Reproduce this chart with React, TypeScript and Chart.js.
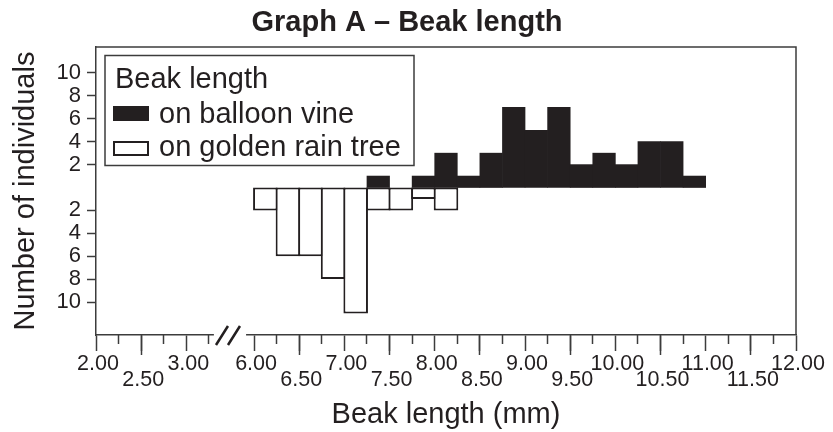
import React, { useEffect, useRef } from 'react';
import { Chart, registerables } from 'chart.js';

Chart.register(...registerables);

// ---------- data ----------
const TITLE = 'Graph A – Beak length';
const X_TITLE = 'Beak length (mm)';
const Y_TITLE = 'Number of individuals';
const LEGEND_TITLE = 'Beak length';
const SERIES_LABELS = ['on balloon vine', 'on golden rain tree'];

// start of each 0.25 mm bin
const BIN_STARTS = [
  6.0, 6.25, 6.5, 6.75, 7.0, 7.25, 7.5, 7.75, 8.0, 8.25,
  8.5, 8.75, 9.0, 9.25, 9.5, 9.75, 10.0, 10.25, 10.5, 10.75,
];
const BIN_WIDTH = 0.25;
const BALLOON_VINE = [0, 0, 0, 0, 0, 1, 0, 1, 3, 1, 3, 7, 5, 7, 2, 3, 2, 4, 4, 1];
const GOLDEN_RAIN_TREE = [2, 6, 6, 8, 11, 2, 2, 1, 2, 0, 0, 0, 0, 0, 0, 0, 0, 0, 0, 0];

const X_WHOLE_TICKS = [2, 3, 6, 7, 8, 9, 10, 11, 12];
const X_HALF_TICKS = [2.5, 6.5, 7.5, 8.5, 9.5, 10.5, 11.5];
const X_QUARTER_TICKS = [2.25, 2.75, 3.25, 6.25, 6.75, 7.25, 7.75, 8.25, 8.75, 9.25, 9.75, 10.25, 10.75, 11.25, 11.75];
const Y_TICKS = [-10, -8, -6, -4, -2, 2, 4, 6, 8, 10];

const X_MIN = 2;
const X_MAX = 12;
const BREAK_START = 3.5; // axis is cut between these real values
const BREAK_END = 5.75;
const Y_MIN = -12.88;
const Y_MAX = 12.27;

// ---------- styling ----------
const FONT = '"Liberation Sans", Arial, Helvetica, sans-serif';
const TEXT = '#231f20';
const LINE = '#3c3c3c';
const BLACK = '#231f20';

const toAxis = (r: number) => (r <= BREAK_START ? r : r - (BREAK_END - BREAK_START));
const fromAxis = (v: number) => (v <= BREAK_START + 1e-9 ? v : v + (BREAK_END - BREAK_START));
const isHalf = (r: number) => Math.abs(r - Math.round(r)) > 0.25;

function xAxis(opts: {
  weight: number;
  ticksReal: number[];
  tickLength: number;
  showLabels: boolean;
  padding: number;
  height: number;
  withBorder: boolean;
  title?: string;
}) {
  return {
    type: 'linear',
    position: 'bottom',
    weight: opts.weight,
    offset: false,
    min: toAxis(X_MIN),
    max: toAxis(X_MAX),
    afterBuildTicks: (s: any) => {
      s.ticks = opts.ticksReal.map((v) => ({ value: toAxis(v) }));
    },
    afterFit: (s: any) => {
      s.height = opts.height;
    },
    ticks: {
      display: opts.showLabels,
      autoSkip: false,
      maxRotation: 0,
      minRotation: 0,
      padding: opts.padding,
      labelOffset: 2,
      color: TEXT,
      font: { size: 21.5, lineHeight: '16px' },
      callback: (v: any) => {
        const r = fromAxis(Number(v));
        const s = r.toFixed(2);
        return isHalf(r) ? ['', s] : [s];
      },
    },
    grid: {
      offset: false,
      drawOnChartArea: false,
      drawTicks: true,
      tickLength: opts.tickLength,
      tickColor: LINE,
      tickWidth: 1.5,
    },
    border: { display: opts.withBorder, color: LINE, width: 1.5 },
    title: opts.title
      ? { display: true, text: opts.title, color: TEXT, font: { size: 29, lineHeight: 1.15 }, padding: { top: 0, bottom: 0 } }
      : { display: false },
  };
}

const decorPlugin = {
  id: 'decor',
  afterDraw(chart: any) {
    const { ctx, chartArea } = chart;
    const { left, right, top, bottom } = chartArea;
    ctx.save();
    // frame top & right
    ctx.strokeStyle = LINE;
    ctx.lineWidth = 1.5;
    ctx.beginPath();
    ctx.moveTo(left, top);
    ctx.lineTo(right, top);
    ctx.lineTo(right, bottom);
    ctx.stroke();

    // axis break
    const xs = chart.scales.xh;
    const g0 = xs.getPixelForValue(toAxis(3.25)) + 5;
    const g1 = xs.getPixelForValue(toAxis(6.0)) - 8;
    ctx.fillStyle = '#ffffff';
    ctx.fillRect(g0, bottom - 2, g1 - g0, 4);
    const gc = (g0 + g1) / 2;
    ctx.strokeStyle = TEXT;
    ctx.lineWidth = 2.5;
    ctx.beginPath();
    for (const c of [gc - 8, gc + 4]) {
      ctx.moveTo(c - 6, bottom + 10);
      ctx.lineTo(c + 6, bottom - 9);
    }
    ctx.stroke();

    // legend
    const lx = 105, ly = 55.5, lw = 309, lh = 110;
    ctx.fillStyle = '#ffffff';
    ctx.fillRect(lx, ly, lw, lh);
    ctx.strokeStyle = LINE;
    ctx.lineWidth = 1.5;
    ctx.strokeRect(lx, ly, lw, lh);
    ctx.font = `29px ${FONT}`;
    ctx.fillStyle = TEXT;
    ctx.textAlign = 'left';
    ctx.textBaseline = 'alphabetic';
    ctx.fillText(LEGEND_TITLE, 115, 88);
    const ds = chart.data.datasets;
    // balloon vine
    ctx.fillStyle = ds[0].backgroundColor;
    ctx.fillRect(113, 106, 36, 15);
    ctx.fillStyle = TEXT;
    ctx.fillText(ds[0].label, 159, 122.5);
    // golden rain tree
    ctx.fillStyle = ds[1].backgroundColor;
    ctx.fillRect(114, 142, 34, 13);
    ctx.strokeStyle = ds[1].borderColor;
    ctx.lineWidth = 2;
    ctx.strokeRect(114, 142, 34, 13);
    ctx.fillStyle = TEXT;
    ctx.fillText(ds[1].label, 159, 155.5);
    ctx.restore();
  },
};

export default function App() {
  const ref = useRef<HTMLCanvasElement>(null);

  useEffect(() => {
    document.body.style.margin = '0';
    Chart.defaults.font.family = FONT;
    Chart.defaults.color = TEXT;

    const balloon = BIN_STARTS.map((s, i) => ({ x: toAxis(s + BIN_WIDTH / 2), y: BALLOON_VINE[i] === 0 ? null : BALLOON_VINE[i] }));
    const golden = BIN_STARTS.map((s, i) => ({ x: toAxis(s + BIN_WIDTH / 2), y: GOLDEN_RAIN_TREE[i] === 0 ? null : -GOLDEN_RAIN_TREE[i] }));
    const labelTicks = [...X_WHOLE_TICKS, ...X_HALF_TICKS].sort((a, b) => a - b);

    const chart = new Chart(ref.current as HTMLCanvasElement, {
      type: 'bar',
      data: {
        datasets: [
          {
            label: SERIES_LABELS[0],
            data: balloon as any,
            xAxisID: 'xh',
            yAxisID: 'y',
            backgroundColor: BLACK,
            borderWidth: 0,
            barPercentage: 1,
            categoryPercentage: 1,
            grouped: false,
          } as any,
          {
            label: SERIES_LABELS[1],
            data: golden as any,
            xAxisID: 'xh',
            yAxisID: 'y',
            backgroundColor: '#ffffff',
            borderColor: BLACK,
            borderWidth: 2,
            borderSkipped: false,
            barPercentage: 1.0886,
            categoryPercentage: 1,
            grouped: false,
          } as any,
        ],
      },
      options: {
        responsive: false,
        animation: false,
        layout: { padding: { left: 18, right: 37, top: 0, bottom: 0 } },
        plugins: {
          legend: { display: false },
          tooltip: { enabled: false },
          title: {
            display: true,
            text: TITLE,
            color: TEXT,
            font: { size: 29, weight: 'bold' },
            padding: { top: 5.6, bottom: 6.6 },
          },
        },
        scales: {
          y: {
            type: 'linear',
            position: 'left',
            min: Y_MIN,
            max: Y_MAX,
            afterFit: (s: any) => {
              s.width = 78;
            },
            afterBuildTicks: (s: any) => {
              s.ticks = Y_TICKS.map((v) => ({ value: v }));
            },
            ticks: {
              autoSkip: false,
              padding: 6,
              color: TEXT,
              font: { size: 22 },
              callback: (v: any) => String(Math.abs(Number(v))),
            },
            grid: { drawOnChartArea: false, drawTicks: true, tickLength: 9, tickColor: LINE, tickWidth: 1.5 },
            border: { display: true, color: LINE, width: 1.5 },
            title: {
              display: true,
              text: Y_TITLE,
              color: TEXT,
              font: { size: 29, lineHeight: 0.5 },
              padding: { top: 1, bottom: 0 },
            },
          },
          xq: xAxis({ weight: 1, ticksReal: X_QUARTER_TICKS, tickLength: 9, showLabels: false, padding: 0, height: 0, withBorder: false }),
          xl: xAxis({ weight: 2, ticksReal: X_HALF_TICKS, tickLength: 20, showLabels: false, padding: 0, height: 0, withBorder: false }),
          xh: xAxis({ weight: 3, ticksReal: labelTicks, tickLength: 16, showLabels: true, padding: 5.5, height: 97, withBorder: true, title: X_TITLE }),
        } as any,
      },
      plugins: [decorPlugin],
    } as any);

    return () => chart.destroy();
  }, []);

  return (
    <div style={{ width: 833, height: 432 }}>
      <canvas ref={ref} width={833} height={432} style={{ display: 'block' }} />
    </div>
  );
}
